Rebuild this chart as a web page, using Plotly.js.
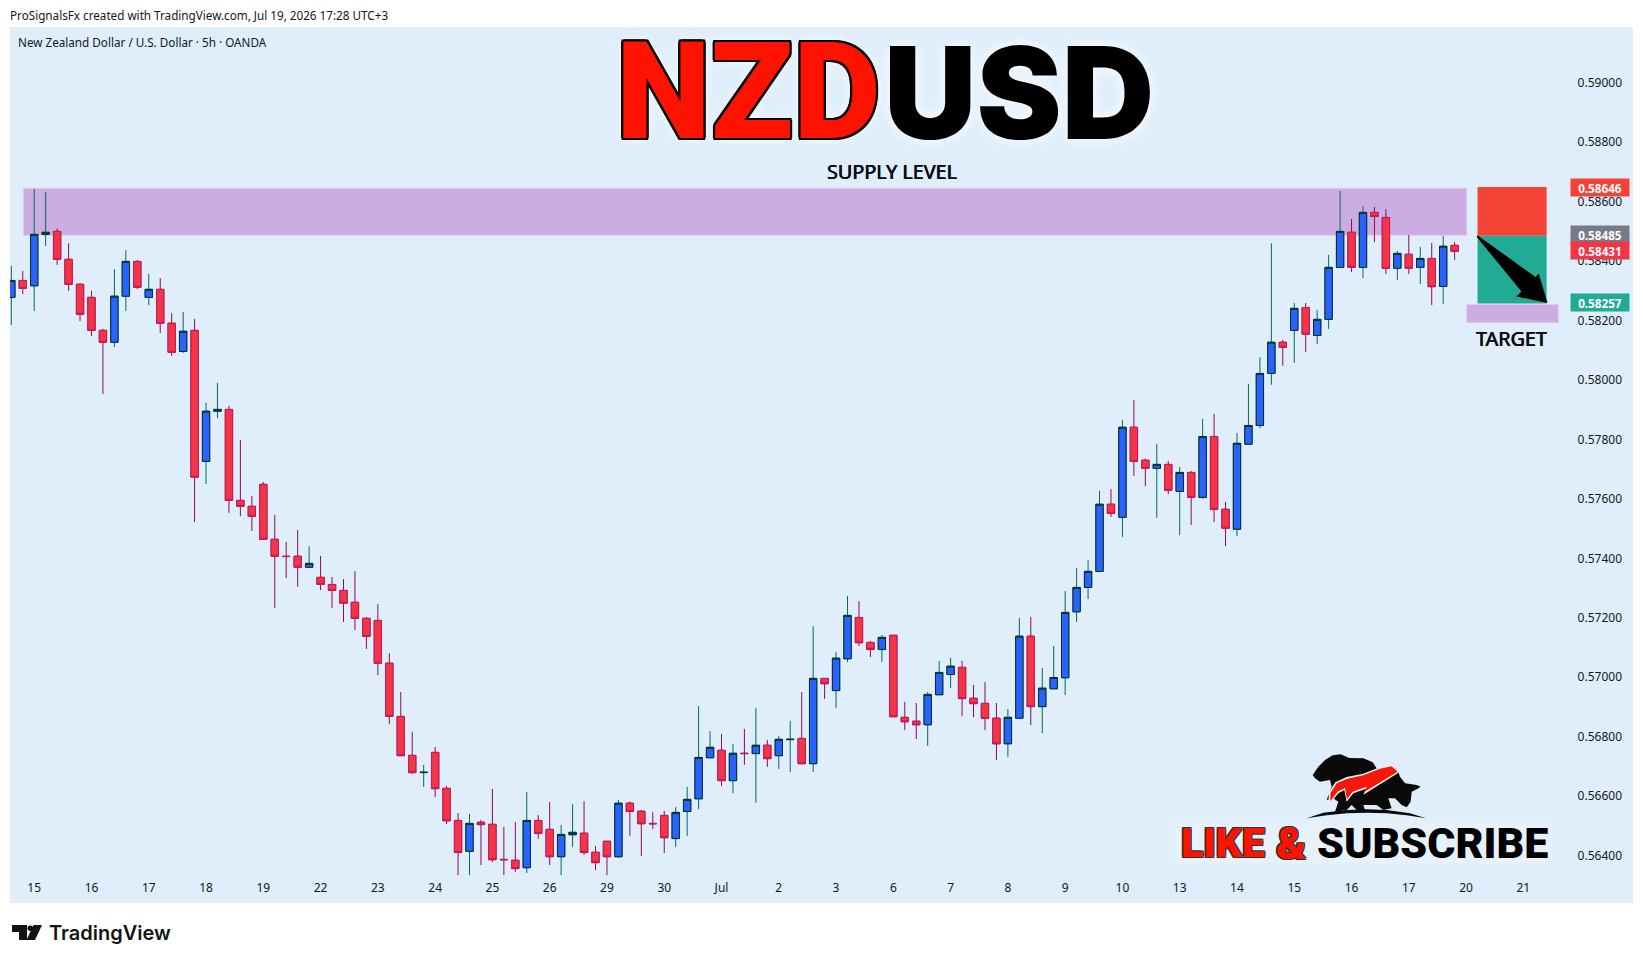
<!DOCTYPE html>
<html><head><meta charset="utf-8">
<script src="https://cdn.plot.ly/plotly-3.0.1.min.js"></script>
<style>html,body{margin:0;padding:0;background:#fff}#chart{width:1643px;height:963px}</style>
</head><body><div id="chart"></div>
<script>
const opens=[0.58278,0.58335,0.58317,0.58490,0.58500,0.58406,0.58322,0.58278,0.58167,0.58127,0.58282,0.58399,0.58278,0.58305,0.58191,0.58096,0.58167,0.57726,0.57895,0.57901,0.57595,0.57575,0.57649,0.57464,0.57407,0.57407,0.57370,0.57336,0.57312,0.57292,0.57252,0.57198,0.57191,0.57047,0.56868,0.56737,0.56679,0.56747,0.56626,0.56518,0.56414,0.56512,0.56505,0.56387,0.56384,0.56359,0.56518,0.56488,0.56396,0.56470,0.56475,0.56411,0.56448,0.56396,0.56576,0.56549,0.56508,0.56535,0.56457,0.56548,0.56591,0.56729,0.56754,0.56652,0.56744,0.56743,0.56771,0.56736,0.56790,0.56794,0.56709,0.56996,0.56955,0.57062,0.57201,0.57117,0.57093,0.57141,0.56865,0.56852,0.56840,0.56941,0.57009,0.57033,0.56929,0.56912,0.56862,0.56776,0.56862,0.57138,0.56901,0.56961,0.56998,0.57220,0.57302,0.57356,0.57582,0.57538,0.57841,0.57730,0.57703,0.57716,0.57625,0.57689,0.57605,0.57810,0.57565,0.57498,0.57784,0.57847,0.58022,0.58127,0.58167,0.58244,0.58150,0.58204,0.58379,0.58497,0.58379,0.58564,0.58547,0.58376,0.58423,0.58379,0.58409,0.58315,0.58453];
const highs=[0.58384,0.58367,0.58643,0.58633,0.58510,0.58460,0.58326,0.58300,0.58172,0.58373,0.58437,0.58404,0.58357,0.58343,0.58225,0.58229,0.58205,0.57923,0.57990,0.57913,0.57798,0.57610,0.57657,0.57546,0.57455,0.57495,0.57441,0.57408,0.57337,0.57330,0.57357,0.57202,0.57246,0.57081,0.56950,0.56816,0.56705,0.56765,0.56634,0.56543,0.56540,0.56520,0.56624,0.56496,0.56513,0.56614,0.56536,0.56580,0.56503,0.56573,0.56583,0.56432,0.56448,0.56587,0.56582,0.56553,0.56546,0.56550,0.56563,0.56631,0.56903,0.56819,0.56809,0.56775,0.56826,0.56896,0.56789,0.56802,0.56853,0.56950,0.57172,0.56996,0.57085,0.57273,0.57256,0.57122,0.57142,0.57141,0.56917,0.56913,0.56950,0.57055,0.57065,0.57055,0.56974,0.56984,0.56913,0.56893,0.57199,0.57203,0.57031,0.57105,0.57290,0.57367,0.57393,0.57627,0.57633,0.57865,0.57933,0.57736,0.57785,0.57727,0.57707,0.57694,0.57869,0.57886,0.57590,0.57822,0.57987,0.58076,0.58460,0.58135,0.58259,0.58259,0.58236,0.58421,0.58636,0.58542,0.58585,0.58582,0.58575,0.58434,0.58488,0.58448,0.58461,0.58485,0.58464];
const lows=[0.58185,0.58289,0.58232,0.58451,0.58387,0.58300,0.58198,0.58148,0.57953,0.58111,0.58232,0.58306,0.58252,0.58158,0.58081,0.58091,0.57522,0.57650,0.57872,0.57553,0.57542,0.57492,0.57464,0.57233,0.57334,0.57304,0.57370,0.57293,0.57233,0.57186,0.57159,0.57095,0.57007,0.56842,0.56736,0.56674,0.56631,0.56597,0.56506,0.56334,0.56334,0.56368,0.56378,0.56334,0.56345,0.56341,0.56456,0.56368,0.56334,0.56429,0.56402,0.56351,0.56334,0.56392,0.56466,0.56398,0.56489,0.56408,0.56429,0.56466,0.56556,0.56729,0.56634,0.56610,0.56705,0.56577,0.56698,0.56691,0.56681,0.56709,0.56681,0.56927,0.56896,0.57051,0.57105,0.57068,0.57051,0.56867,0.56822,0.56792,0.56769,0.56941,0.56964,0.56869,0.56866,0.56822,0.56721,0.56732,0.56862,0.56839,0.56812,0.56961,0.56940,0.57186,0.57263,0.57356,0.57539,0.57472,0.57677,0.57643,0.57536,0.57616,0.57478,0.57512,0.57600,0.57522,0.57441,0.57475,0.57784,0.57838,0.57984,0.58048,0.58058,0.58094,0.58121,0.58172,0.58379,0.58363,0.58343,0.58464,0.58357,0.58336,0.58357,0.58323,0.58252,0.58256,0.58404];
const closes=[0.58335,0.58308,0.58490,0.58497,0.58406,0.58322,0.58221,0.58167,0.58127,0.58282,0.58399,0.58312,0.58305,0.58191,0.58093,0.58164,0.57673,0.57895,0.57901,0.57595,0.57575,0.57541,0.57464,0.57407,0.57406,0.57370,0.57383,0.57312,0.57292,0.57249,0.57198,0.57137,0.57047,0.56868,0.56736,0.56679,0.56680,0.56625,0.56517,0.56410,0.56508,0.56504,0.56386,0.56386,0.56356,0.56518,0.56474,0.56396,0.56471,0.56478,0.56410,0.56376,0.56396,0.56576,0.56548,0.56507,0.56507,0.56460,0.56545,0.56589,0.56730,0.56764,0.56652,0.56744,0.56743,0.56771,0.56726,0.56791,0.56791,0.56709,0.56996,0.56978,0.57064,0.57208,0.57116,0.57093,0.57134,0.56867,0.56850,0.56840,0.56942,0.57016,0.57037,0.56928,0.56911,0.56861,0.56776,0.56865,0.57138,0.56901,0.56963,0.56999,0.57218,0.57302,0.57356,0.57582,0.57551,0.57841,0.57726,0.57703,0.57716,0.57629,0.57689,0.57605,0.57810,0.57565,0.57501,0.57787,0.57847,0.58022,0.58127,0.58110,0.58241,0.58154,0.58204,0.58379,0.58500,0.58379,0.58564,0.58550,0.58376,0.58426,0.58376,0.58409,0.58314,0.58450,0.58433];
const dayLabels=["15","16","17","18","19","22","23","24","25","26","29","30","Jul","2","3","6","7","8","9","10","13","14","15","16","17","20","21"];
const priceTicks=[0.564,0.566,0.568,0.570,0.572,0.574,0.576,0.578,0.580,0.582,0.584,0.586,0.588,0.590];
const supplyTop=0.58645, supplyBottom=0.58487;
const targetTop=0.58254, targetBottom=0.58193;
const stopPrice=0.58649, entryPrice=0.58485, targetPrice=0.58257;
const priceTags=[["0.58646",0.58646,"#f44336"],["0.58485",0.58485,"#787b86"],["0.58431",0.58431,"#f23645"],["0.58257",0.58257,"#22ab94"]];

const L=10,R=1633,T=27,B=903;
const xPaper=p=>(p-L)/(R-L), yPaper=p=>1-(p-T)/(B-T);
const idx=opens.map((_,i)=>i);
const xOf=p=>(p-11.3)/11.455;
const yrange=[0.58-(B-380)/29720,0.58+(380-T)/29720];
const xrange=[xOf(L),xOf(R)];

const pathOf=(pts)=>'M'+pts.map(q=>xPaper(q[0]).toFixed(5)+','+yPaper(q[1]).toFixed(5)).join(' L')+' Z';
const logoPt=(zx,zy)=>[1150+zx/3,730+zy/3];
const logoPath=(arr)=>pathOf(arr.map(a=>logoPt(a[0],a[1])));

const arrowPts=[[1477.3,235.2],[1535.5,277],[1538.7,273.5],[1547.5,303],[1516.5,296.5],[1521.5,291.5],[1476.8,237]];
const beast=[[488,135],[505,110],[525,90],[548,76],[572,73],[598,84],[640,85],[668,97],[682,118],[745,125],[750,140],[765,160],[800,165],[812,170],[800,178],[785,185],[782,215],[770,232],[755,225],[735,205],[715,205],[725,235],[700,240],[680,225],[640,225],[645,240],[620,240],[605,225],[590,240],[555,245],[565,215],[550,205],[530,210],[545,170],[540,150],[510,155],[495,145]];
const swooshW=[[536,218],[536,188],[556,157],[590,141],[640,131],[690,111],[725,104],[750,125],[640,194],[648,176],[610,190],[590,215],[583,180],[565,190],[550,208]];
const swoosh=[[541,214],[541,190],[560,160],[592,146],[640,136],[690,116],[725,109],[743,125],[643,186],[650,170],[608,185],[591,208],[585,174],[563,185],[548,205]];
const ground=[[470,265],[520,248],[590,240],[650,238],[710,240],[780,250],[828,265],[770,256],[710,250],[650,248],[590,250],[530,256]];
const tvT=[[12,925],[27,925],[27,940],[19,940],[19,932],[12,932]];
const tvSlash=[[33.5,925],[42,925],[35,940],[26.5,940]];
const glow=(a,x0,x1,y0,y1)=>({type:'rect',xref:'paper',yref:'paper',x0:xPaper(x0),x1:xPaper(x1),y0:yPaper(y1),y1:yPaper(y0),fillcolor:'rgba(255,255,255,'+a+')',line:{width:0},layer:'below'});

const shapes=[
 {type:'rect',xref:'x',yref:'y',x0:1.05,x1:127.05,y0:supplyBottom,y1:supplyTop,fillcolor:'#ccade2',line:{color:'#e2c9f7',width:1},layer:'below'},
 {type:'rect',xref:'x',yref:'y',x0:127.05,x1:135.05,y0:targetBottom,y1:targetTop,fillcolor:'#ccade2',line:{color:'#e2c9f7',width:1},layer:'below'},
 {type:'rect',xref:'x',yref:'y',x0:128,x1:134.03,y0:entryPrice,y1:stopPrice,fillcolor:'#f44336',line:{width:0},layer:'below'},
 {type:'rect',xref:'x',yref:'y',x0:128,x1:134.03,y0:targetPrice,y1:entryPrice,fillcolor:'#22ab94',line:{width:0},layer:'below'},
 {type:'path',xref:'paper',yref:'paper',path:pathOf(arrowPts),fillcolor:'#000',line:{width:0},layer:'above'},
 glow(0.08,1168,1557,816,864),glow(0.1,1172,1553,820,864),glow(0.12,1178,1548,824,862),
 {type:'path',xref:'paper',yref:'paper',path:logoPath(beast),fillcolor:'#0a0a0a',line:{width:0},layer:'above'},
 {type:'path',xref:'paper',yref:'paper',path:logoPath(swooshW),fillcolor:'#f3f3f3',line:{width:0},layer:'above'},
 {type:'path',xref:'paper',yref:'paper',path:logoPath(swoosh),fillcolor:'#f5170a',line:{width:0},layer:'above'},
 {type:'path',xref:'paper',yref:'paper',path:logoPath(ground),fillcolor:'#0a0a0a',line:{width:0},layer:'above'},
 {type:'path',xref:'paper',yref:'paper',path:pathOf(tvT),fillcolor:'#131313',line:{width:0},layer:'above'},
 {type:'path',xref:'paper',yref:'paper',path:pathOf(tvSlash),fillcolor:'#131313',line:{width:0},layer:'above'},
 {type:'circle',xref:'paper',yref:'paper',x0:xPaper(27.5),x1:xPaper(33),y0:yPaper(931),y1:yPaper(925.5),fillcolor:'#131313',line:{width:0},layer:'above'}
];

const outline='-1.8px -1.8px 0 #000,1.8px -1.8px 0 #000,-1.8px 1.8px 0 #000,1.8px 1.8px 0 #000,0 -2.2px 0 #000,0 2.2px 0 #000,-2.2px 0 0 #000,2.2px 0 0 #000,0 0 14px #fff';
const thin='-1.2px -1.2px 0 #333,1.2px -1.2px 0 #333,-1.2px 1.2px 0 #333,1.2px 1.2px 0 #333';
const boldish='0.35px 0 0 #0b0e14,-0.35px 0 0 #0b0e14';
const note=(text,px,py,font,xa)=>({text,xref:'paper',yref:'paper',x:xPaper(px),y:yPaper(py),xanchor:xa||'center',yanchor:'middle',showarrow:false,font,align:'center'});
const annotations=[
 note('ProSignalsFx created with TradingView.com, Jul 19, 2026 17:28 UTC+3',8,15,{family:'Noto Sans',size:11.7,color:'#131722'},'left'),
 note('New Zealand Dollar / U.S. Dollar · 5h · OANDA',16,41.5,{family:'Noto Sans',size:11.7,color:'#131722'},'left'),
 note('NZD',883,92,{family:'Roboto',size:135,weight:900,color:'#fd1300',shadow:outline},'right'),
 note('USD',882,93,{family:'Inter',size:128,weight:900,color:'#000',shadow:'0 0 14px #fff'},'left'),
 note('SUPPLY LEVEL',892,171,{family:'Noto Sans',size:19.8,color:'#0b0e14',shadow:boldish}),
 note('TARGET',1511,338,{family:'Noto Sans',size:19.8,color:'#0b0e14',shadow:boldish}),
 note('LIKE',1223,843,{family:'Roboto',size:41,weight:900,color:'#fd1300',shadow:thin}),
 note('&',1291,843,{family:'Roboto',size:45,weight:900,color:'#fd1300',shadow:thin}),
 note('SUBSCRIBE',1432,843,{family:'Roboto',size:43,weight:900,color:'#000'}),
 note('TradingView',47,933,{family:'Inter',size:20,weight:600,color:'#131313'},'left')
];
priceTags.forEach(t=>annotations.push({text:t[0],xref:'paper',yref:'y',x:xPaper(1599.8),y:t[1],yshift:1,xanchor:'center',yanchor:'middle',showarrow:false,width:56,height:15,borderpad:1,bgcolor:t[2],font:{family:'Noto Sans',size:11.7,color:'#fff',weight:700}}));

const wicks={type:'candlestick',x:idx,open:opens,high:highs,low:lows,close:closes,whiskerwidth:0,showlegend:false,hoverinfo:'skip',
 increasing:{line:{color:'#006b58',width:1},fillcolor:'#2962ff'},decreasing:{line:{color:'#880e4f',width:1},fillcolor:'#f23645'}};
const bodies={type:'candlestick',x:idx,open:opens,close:closes,high:opens.map((o,i)=>Math.max(o,closes[i])),low:opens.map((o,i)=>Math.min(o,closes[i])),whiskerwidth:0,showlegend:false,hoverinfo:'skip',
 increasing:{line:{color:'#00332c',width:1},fillcolor:'#2962ff'},decreasing:{line:{color:'#c9185f',width:1},fillcolor:'#f23645'}};

const layout={width:1643,height:963,paper_bgcolor:'#fff',plot_bgcolor:'#dfeefa',showlegend:false,
 margin:{l:L,r:1643-R,t:T,b:963-B,pad:0},boxmode:'overlay',boxgap:0.36,boxgroupgap:0,
 xaxis:{type:'linear',range:xrange,rangeslider:{visible:false},showgrid:false,zeroline:false,showline:false,ticks:'',
   tickmode:'array',tickvals:dayLabels.map((_,i)=>2+5*i),ticktext:dayLabels,ticklabelposition:'inside',ticklabelstandoff:6,
   tickfont:{family:'Noto Sans',size:12,color:'#131722'}},
 yaxis:{type:'linear',side:'right',range:yrange,showgrid:false,zeroline:false,showline:false,ticks:'',
   tickmode:'array',tickvals:priceTicks,tickformat:'.5f',ticklabelposition:'inside',ticklabelstandoff:8,
   tickfont:{family:'Noto Sans',size:12,color:'#131722'}},
 shapes,annotations};
Plotly.newPlot('chart',[wicks,bodies],layout,{displayModeBar:false,responsive:false});
</script></body></html>
